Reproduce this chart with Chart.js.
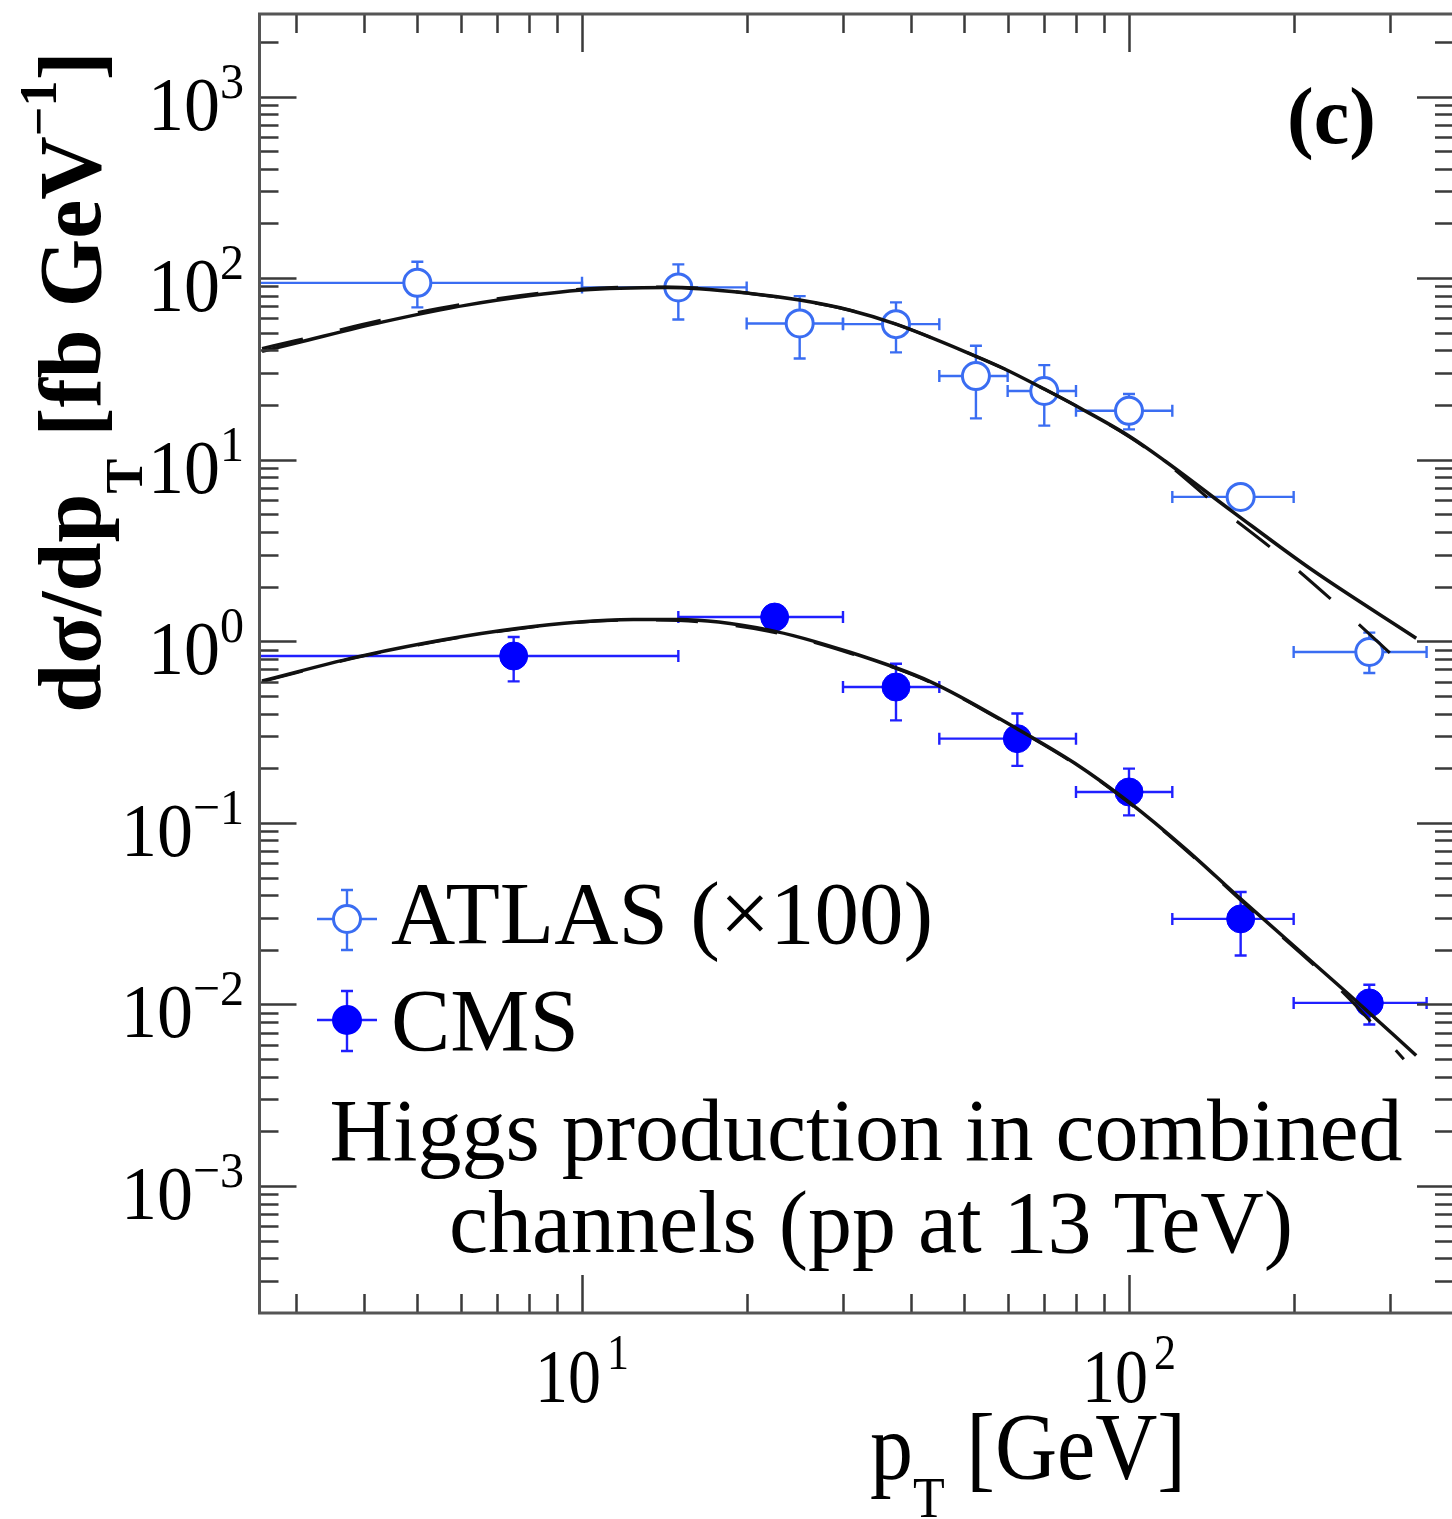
<!DOCTYPE html>
<html>
<head>
<meta charset="utf-8">
<script src="https://cdn.jsdelivr.net/npm/chart.js@4.4.1/dist/chart.umd.min.js"></script>
<style>
    html, body { margin: 0; padding: 0; background: #fff; }
    canvas { display: block; }
</style>
</head>
<body>
<canvas id="ptChart" width="1452" height="1519"></canvas>
<script>
// ATLAS data (x100), bins in pT
const atlasPt   = [5, 15, 25, 37.5, 52.5, 70, 100, 160, 275];
const atlasPtLo = [0, 10, 20, 30, 45, 60, 80, 120, 200];
const atlasPtHi = [10, 20, 30, 45, 60, 80, 120, 200, 350];
const atlasXs   = [94.2, 88.9, 56.3, 55.8, 28.9, 23.9, 18.6, 6.24, 0.873];
const atlasXsLo = [69.0, 59.2, 36.1, 39.0, 16.9, 15.4, 14.7, 5.9, 0.669];
const atlasXsHi = [123, 119, 79.6, 73.5, 42.4, 33.2, 23.0, 6.6, 1.117];

// CMS data
const cmsPt   = [7.5, 22.5, 37.5, 62.5, 100, 160, 275];
const cmsPtLo = [0, 15, 30, 45, 80, 120, 200];
const cmsPtHi = [15, 30, 45, 80, 120, 200, 350];
const cmsXs   = [0.830, 1.36, 0.560, 0.291, 0.148, 0.0296, 0.0102];
const cmsXsLo = [0.602, 1.25, 0.367, 0.206, 0.110, 0.0186, 0.00776];
const cmsXsHi = [1.056, 1.48, 0.753, 0.400, 0.199, 0.0416, 0.01285];

// model curves (solid and dashed)
const atlasFitPt     = [2.6, 3, 4.33, 6.15, 10, 14.3, 20.3, 25, 30.9, 37.5, 52, 59, 70, 81.5, 100, 116, 155, 215, 335];
const atlasFitSolid  = [39.5, 43.9, 57.4, 71.0, 85.9, 88.9, 82.4, 75.7, 66.6, 55.8, 37.6, 31.8, 24.5, 19.2, 13.5, 9.9, 5.15, 2.5, 1.04];
const atlasDashPt    = [2.6, 3, 4.33, 6.15, 10, 14.3, 20.3, 30.9, 37.5, 52, 59, 70, 81.5, 100, 116, 145.8, 188.8, 248.5, 332];
const atlasFitDashed = [41.0, 45.3, 59.0, 72.5, 87.0, 89.5, 82.4, 66.6, 55.8, 37.6, 31.8, 24.5, 19.2, 13.4, 9.8, 5.5, 2.98, 1.45, 0.65];

const cmsFitPt     = [2.6, 4.0, 7.6, 12.4, 15, 21.8, 30.9, 43.3, 62.4, 79.6, 100, 126.5, 159.6, 252.4, 335];
const cmsFitSolid  = [0.605, 0.837, 1.175, 1.317, 1.32, 1.16, 0.87, 0.60, 0.33, 0.213, 0.130, 0.0724, 0.0384, 0.01135, 0.00524];
const cmsDashPt    = [2.6, 4.0, 7.6, 12.4, 15, 21.8, 30.9, 43.3, 62.4, 79.6, 100, 126.5, 159.6, 252.4, 318];
const cmsFitDashed = [0.600, 0.832, 1.17, 1.31, 1.30, 1.14, 0.86, 0.595, 0.327, 0.211, 0.129, 0.0715, 0.0378, 0.0108, 0.0050];

// axes
const xMin = 2.589, xMax = 389.5;
const yMin = 2e-4, yMax = 2848;
const xMajorTicks = [10, 100];
const xMajorExps = ['1', '2'];
const xMinorTicks = [3, 4, 5, 6, 7, 8, 9, 20, 30, 40, 50, 60, 70, 80, 90, 200, 300];
const yMajorTicks = [1e-3, 1e-2, 1e-1, 1, 10, 100, 1000];
const yMajorExps = ['\u22123', '\u22122', '\u22121', '0', '1', '2', '3'];
const yMinorMult = [2, 3, 4, 5, 6, 7, 8, 9];
const yDecades = [1e-4, 1e-3, 1e-2, 1e-1, 1, 10, 100, 1000];

const atlasBlue = '#3a6df2';
const cmsBlue = '#0000ff';
const cmsLine = '#2020ff';
const SERIF = "'Liberation Serif', 'Times New Roman', Times, serif";

const toXY = (xs, ys) => xs.map((x, i) => ({ x: x, y: ys[i] }));

function font(size, bold) {
    return (bold ? 'bold ' : '') + size + 'px ' + SERIF;
}

function drawText(ctx, s, x, y, size, o) {
    o = o || {};
    ctx.save();
    ctx.translate(x, y);
    ctx.scale(1, o.sy || 1);
    ctx.font = font(size, o.bold);
    ctx.textAlign = o.align || 'left';
    ctx.textBaseline = 'alphabetic';
    ctx.fillStyle = '#000';
    ctx.fillText(s, 0, 0);
    ctx.restore();
}

function widthOf(ctx, s, size, bold) {
    ctx.save();
    ctx.font = font(size, bold);
    const w = ctx.measureText(s).width;
    ctx.restore();
    return w;
}

// pieces: [{t, size, dy}], drawn one after another on the current baseline
function drawPieces(ctx, pieces, x, y, bold, center) {
    let total = 0;
    pieces.forEach(p => total += widthOf(ctx, p.t, p.size, bold));
    let cx = center ? x - total / 2 : x;
    pieces.forEach(p => {
        drawText(ctx, p.t, cx, y + (p.dy || 0), p.size, { bold: bold, sy: p.sy });
        cx += widthOf(ctx, p.t, p.size, bold);
    });
}

function errorBar(ctx, px, py, left, right, top, bottom, color) {
    ctx.strokeStyle = color;
    ctx.lineWidth = 2.4;
    ctx.beginPath();
    ctx.moveTo(left, py); ctx.lineTo(right, py);
    ctx.moveTo(px, top); ctx.lineTo(px, bottom);
    ctx.moveTo(left, py - 6); ctx.lineTo(left, py + 6);
    ctx.moveTo(right, py - 6); ctx.lineTo(right, py + 6);
    ctx.moveTo(px - 6, top); ctx.lineTo(px + 6, top);
    ctx.moveTo(px - 6, bottom); ctx.lineTo(px + 6, bottom);
    ctx.stroke();
}

const errorBarPlugin = {
    id: 'errorBars',
    beforeDatasetsDraw(chart) {
        const { ctx, chartArea, scales: { x, y } } = chart;
        const series = [
            [atlasPt, atlasPtLo, atlasPtHi, atlasXs, atlasXsLo, atlasXsHi, atlasBlue],
            [cmsPt, cmsPtLo, cmsPtHi, cmsXs, cmsXsLo, cmsXsHi, cmsLine]
        ];
        ctx.save();
        ctx.beginPath();
        ctx.rect(chartArea.left, chartArea.top, chartArea.right - chartArea.left, chartArea.bottom - chartArea.top);
        ctx.clip();
        series.forEach(([pt, lo, hi, val, ylo, yhi, color]) => {
            pt.forEach((v, i) => {
                const px = x.getPixelForValue(v);
                const left = lo[i] > 0 ? x.getPixelForValue(lo[i]) : chartArea.left - 10;
                const right = x.getPixelForValue(hi[i]);
                errorBar(ctx, px, y.getPixelForValue(val[i]), left, right,
                    y.getPixelForValue(yhi[i]), y.getPixelForValue(ylo[i]), color);
            });
        });
        ctx.restore();
    }
};

const framePlugin = {
    id: 'frame',
    afterDraw(chart) {
        const { ctx, chartArea: a, scales: { x, y } } = chart;
        const left = a.left - 1.5, right = a.right + 2, top = a.top, bottom = a.bottom;
        ctx.save();

        // ticks
        ctx.strokeStyle = '#3a3a3a';
        ctx.lineWidth = 2.5;
        ctx.beginPath();
        const yTick = (v, len) => {
            const py = Math.round(y.getPixelForValue(v)) + 0.5;
            if (py < top || py > bottom) return;
            ctx.moveTo(left, py); ctx.lineTo(left + len, py);
            ctx.moveTo(right, py); ctx.lineTo(right - len, py);
        };
        yMajorTicks.forEach(v => yTick(v, 37));
        yDecades.forEach(d => yMinorMult.forEach(m => yTick(d * m, 19)));
        const xTick = (v, len) => {
            const px = Math.round(x.getPixelForValue(v)) + 0.5;
            ctx.moveTo(px, bottom); ctx.lineTo(px, bottom - len);
            ctx.moveTo(px, top); ctx.lineTo(px, top + len);
        };
        xMajorTicks.forEach(v => xTick(v, 38));
        xMinorTicks.forEach(v => xTick(v, 19));
        ctx.stroke();

        // frame
        ctx.strokeStyle = '#555';
        ctx.lineWidth = 3;
        ctx.strokeRect(left, top, right - left, bottom - top);

        // y tick labels
        yMajorTicks.forEach((v, i) => {
            const py = y.getPixelForValue(v);
            const e = yMajorExps[i];
            const wE = widthOf(ctx, e, 48);
            const w10 = widthOf(ctx, '10', 72);
            const xr = 244;
            drawText(ctx, '10', xr - wE - w10, py + 33, 72, { sy: 1.07 });
            drawText(ctx, e, xr - wE, py + 1, 48, { sy: 1.05 });
        });

        // x tick labels
        xMajorTicks.forEach((v, i) => {
            const px = x.getPixelForValue(v);
            const e = xMajorExps[i];
            const w10 = widthOf(ctx, '10', 66);
            const wE = widthOf(ctx, e, 44);
            const x0 = px - (w10 + wE + 6) / 2;
            drawText(ctx, '10', x0, 1402, 66, { sy: 1.15 });
            drawText(ctx, e, x0 + w10 + 6, 1369, 44, { sy: 1.15 });
        });

        // x title
        drawPieces(ctx, [
            { t: 'p', size: 86, sy: 1.1 },
            { t: 'T', size: 52, dy: 38, sy: 1.1 },
            { t: ' [GeV]', size: 86, sy: 1.1 }
        ], 870, 1479, false, false);

        // y title (rotated)
        ctx.save();
        ctx.translate(100, 382);
        ctx.rotate(-Math.PI / 2);
        drawPieces(ctx, [
            { t: 'd\u03c3/dp', size: 88 },
            { t: 'T', size: 52, dy: 42 },
            { t: ' [fb GeV', size: 88 },
            { t: '\u22121', size: 52, dy: -44 },
            { t: ']', size: 88 }
        ], 0, 0, true, true);
        ctx.restore();

        // panel label
        drawText(ctx, '(c)', 1287, 143, 80, { bold: true });

        // legend
        const legendMarker = (cx, cy, color, fill) => {
            ctx.strokeStyle = color;
            ctx.lineWidth = 2.4;
            ctx.beginPath();
            ctx.moveTo(cx - 30, cy); ctx.lineTo(cx + 30, cy);
            ctx.moveTo(cx, cy - 29); ctx.lineTo(cx, cy + 31);
            ctx.moveTo(cx - 6, cy - 29); ctx.lineTo(cx + 6, cy - 29);
            ctx.moveTo(cx - 6, cy + 31); ctx.lineTo(cx + 6, cy + 31);
            ctx.stroke();
            ctx.beginPath();
            ctx.arc(cx, cy, 13.5, 0, Math.PI * 2);
            ctx.fillStyle = fill;
            ctx.fill();
            ctx.lineWidth = 3;
            ctx.strokeStyle = fill === '#fff' ? color : fill;
            ctx.stroke();
        };
        legendMarker(347, 919, atlasBlue, '#fff');
        legendMarker(347, 1020, cmsLine, cmsBlue);
        drawText(ctx, 'ATLAS (\u00d7100)', 391, 943, 89);
        drawText(ctx, 'CMS', 391, 1050, 89);

        // annotation
        drawText(ctx, 'Higgs production in combined', 866, 1160, 88, { align: 'center' });
        drawText(ctx, 'channels (pp at 13 TeV)', 871, 1252, 88, { align: 'center' });

        ctx.restore();
    }
};

new Chart(document.getElementById('ptChart'), {
    type: 'scatter',
    data: {
        datasets: [
            {
                label: 'ATLAS fit',
                data: toXY(atlasFitPt, atlasFitSolid),
                showLine: true,
                borderColor: '#111',
                borderWidth: 3.5,
                pointRadius: 0,
                cubicInterpolationMode: 'monotone'
            },
            {
                label: 'ATLAS fit (dashed)',
                data: toXY(atlasDashPt, atlasFitDashed),
                showLine: true,
                borderColor: '#111',
                borderWidth: 3,
                borderDash: [42, 38],
                pointRadius: 0,
                cubicInterpolationMode: 'monotone'
            },
            {
                label: 'CMS fit',
                data: toXY(cmsFitPt, cmsFitSolid),
                showLine: true,
                borderColor: '#111',
                borderWidth: 3.5,
                pointRadius: 0,
                cubicInterpolationMode: 'monotone'
            },
            {
                label: 'CMS fit (dashed)',
                data: toXY(cmsDashPt, cmsFitDashed),
                showLine: true,
                borderColor: '#111',
                borderWidth: 3,
                borderDash: [42, 38],
                pointRadius: 0,
                cubicInterpolationMode: 'monotone'
            },
            {
                label: 'ATLAS (x100)',
                data: toXY(atlasPt, atlasXs),
                pointRadius: 13.5,
                pointBorderWidth: 3,
                pointBorderColor: atlasBlue,
                pointBackgroundColor: '#fff'
            },
            {
                label: 'CMS',
                data: toXY(cmsPt, cmsXs),
                pointRadius: 14,
                pointBorderWidth: 1,
                pointBorderColor: cmsBlue,
                pointBackgroundColor: cmsBlue
            }
        ]
    },
    options: {
        responsive: false,
        animation: false,
        events: [],
        layout: {
            autoPadding: false,
            padding: { left: 261, top: 14, right: 0, bottom: 206 }
        },
        plugins: {
            legend: { display: false },
            tooltip: { enabled: false }
        },
        scales: {
            x: { type: 'logarithmic', min: xMin, max: xMax, bounds: 'data', display: false },
            y: { type: 'logarithmic', min: yMin, max: yMax, bounds: 'data', display: false }
        }
    },
    plugins: [errorBarPlugin, framePlugin]
});
</script>
</body>
</html>
